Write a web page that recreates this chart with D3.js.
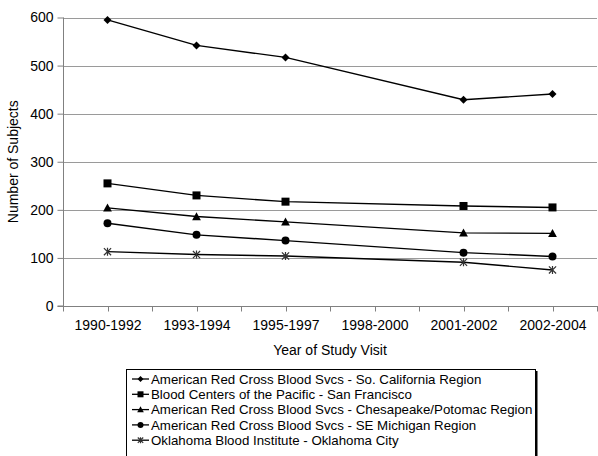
<!DOCTYPE html>
<html><head><meta charset="utf-8">
<script src="https://cdn.jsdelivr.net/npm/d3@7"></script>
<style>body{margin:0;background:#fff}svg{display:block;font-family:"Liberation Sans",Arial,sans-serif}</style>
</head><body><svg id="c" width="598" height="456"></svg>
<script>
const categories = ["1990-1992","1993-1994","1995-1997","1998-2000","2001-2002","2002-2004"];
const yTicks = [0,100,200,300,400,500,600];
const seriesNames = [
  "American Red Cross Blood Svcs - So. California Region",
  "Blood Centers of the Pacific - San Francisco",
  "American Red Cross Blood Svcs - Chesapeake/Potomac Region",
  "American Red Cross Blood Svcs - SE Michigan Region",
  "Oklahoma Blood Institute - Oklahoma City"
];
const soCal      = [595, 542, 517, null, 429, 441];
const sanFran    = [255, 230, 217, null, 208, 205];
const chesapeake = [204, 186, 175, null, 152, 151];
const seMichigan = [172, 148, 136, null, 111, 103];
const oklahoma   = [113, 107, 104, null, 91, 75];
const seriesValues = [soCal, sanFran, chesapeake, seMichigan, oklahoma];
const markerTypes = ["diamond","square","triangle","circle","star"];

const svg = d3.select("#c");
const L = 63, R = 597, T = 17.5, B = 306;
const x = d3.scalePoint().domain(categories).range([L, R]).padding(0.5);
const y = d3.scaleLinear().domain([0, 600]).range([B, T]);
const step = x.step();

// gridlines
svg.append("g").selectAll("line").data(yTicks.filter(d => d > 0)).join("line")
  .attr("x1", L).attr("x2", R).attr("y1", d => Math.round(y(d)) + 0.5).attr("y2", d => Math.round(y(d)) + 0.5)
  .attr("stroke", "#9a9a9a").attr("stroke-width", 1);

// y axis
const ya = svg.append("g").attr("transform", `translate(${L + 0.5},0)`)
  .call(d3.axisLeft(y).tickValues(yTicks).tickSize(6).tickPadding(4).tickFormat(d3.format("d")));
ya.select(".domain").attr("stroke", "#808080").attr("d", `M-6,${B}H0V${T}`);
ya.selectAll(".tick line").attr("stroke", "#808080");
ya.selectAll(".tick text").attr("font-size", 14).attr("fill", "#000").attr("font-family", "Liberation Sans, Arial, sans-serif");

// x axis
const xa = svg.append("g").attr("transform", `translate(0,${Math.round(B) + 0.5})`)
  .call(d3.axisBottom(x).tickSize(0).tickPadding(14));
xa.select(".domain").attr("stroke", "#808080").attr("d", `M${L},0H${R + 1}`);
xa.selectAll(".tick text").attr("font-size", 14).attr("fill", "#000").attr("font-family", "Liberation Sans, Arial, sans-serif");
const tickPos = [];
categories.forEach(c => { tickPos.push(x(c) - step / 2); tickPos.push(x(c)); });
tickPos.push(x(categories[categories.length - 1]) + step / 2);
xa.append("g").selectAll("line").data(tickPos).join("line")
  .attr("x1", d => Math.round(d) + 0.5).attr("x2", d => Math.round(d) + 0.5)
  .attr("y1", 0).attr("y2", 5).attr("stroke", "#808080");

// axis titles
svg.append("text").attr("x", (L + R) / 2).attr("y", 355).attr("text-anchor", "middle")
  .attr("font-size", 14).text("Year of Study Visit");
svg.append("text").attr("transform", `translate(18,${(T + B) / 2}) rotate(-90)`).attr("text-anchor", "middle")
  .attr("font-size", 14).text("Number of Subjects");

// markers
function drawMarker(g, type, cx, cy, s) {
  if (type === "diamond") {
    g.append("path").attr("d", `M${cx},${cy-s}L${cx+s},${cy}L${cx},${cy+s}L${cx-s},${cy}Z`).attr("fill", "#000");
  } else if (type === "square") {
    g.append("rect").attr("x", cx - s).attr("y", cy - s).attr("width", 2*s).attr("height", 2*s).attr("fill", "#000");
  } else if (type === "triangle") {
    g.append("path").attr("d", `M${cx},${cy-s*1.1}L${cx+s*1.1},${cy+s*0.9}L${cx-s*1.1},${cy+s*0.9}Z`).attr("fill", "#000");
  } else if (type === "circle") {
    g.append("circle").attr("cx", cx).attr("cy", cy).attr("r", s).attr("fill", "#000");
  } else if (type === "star") {
    const a = s * 0.9;
    g.append("path").attr("d", `M${cx-a},${cy-a}L${cx+a},${cy+a}M${cx-a},${cy+a}L${cx+a},${cy-a}M${cx},${cy-s}V${cy+s}`)
      .attr("stroke", "#333").attr("stroke-width", 1.2).attr("fill", "none");
  }
}

const line = d3.line().x(d => x(d.c)).y(d => y(d.v));
seriesValues.forEach((vals, i) => {
  const pts = categories.map((c, j) => ({c, v: vals[j]})).filter(d => d.v != null);
  const g = svg.append("g");
  g.append("path").datum(pts).attr("d", line).attr("fill", "none").attr("stroke", "#000").attr("stroke-width", 1.4);
  pts.forEach(p => drawMarker(g, markerTypes[i], x(p.c), y(p.v), 4));
});

// legend
const lg = svg.append("g");
lg.append("rect").attr("x", 128.5).attr("y", 371).attr("width", 409).attr("height", 95).attr("fill", "#000");
lg.append("rect").attr("x", 126.5).attr("y", 369.5).attr("width", 409).attr("height", 95)
  .attr("fill", "#fff").attr("stroke", "#000").attr("stroke-width", 1);
seriesNames.forEach((name, i) => {
  const cy = 379 + i * 15.3;
  lg.append("line").attr("x1", 132).attr("x2", 149).attr("y1", cy).attr("y2", cy).attr("stroke", "#000").attr("stroke-width", 1.3);
  drawMarker(lg, markerTypes[i], 140.5, cy, 3);
  lg.append("text").attr("x", 151).attr("y", cy + 4.7).attr("font-size", 13.3).text(name);
});
</script></body></html>
